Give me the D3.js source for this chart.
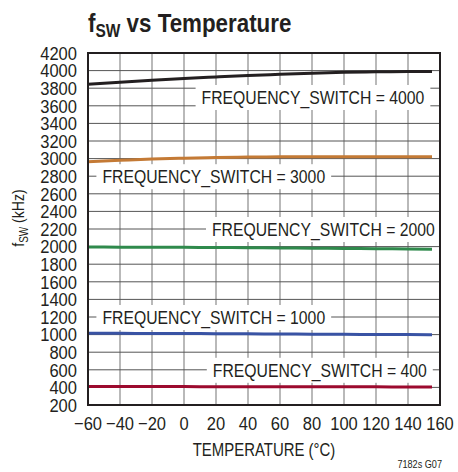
<!DOCTYPE html>
<html>
<head>
<meta charset="utf-8">
<script src="https://cdn.jsdelivr.net/npm/d3@7"></script>
<style>
  body { margin: 0; background: #fff; }
  text { font-family: "Liberation Sans", Arial, sans-serif; fill: #231f20; }
</style>
</head>
<body>
<svg id="chart" width="458" height="472"></svg>
<script>
// temperature points (°C)
var temps = [-60, -40, -20, 0, 20, 40, 60, 80, 100, 120, 140, 155];
// fSW readings (kHz) for each FREQUENCY_SWITCH setting
var f4000 = [3845, 3868, 3890, 3910, 3928, 3945, 3958, 3970, 3980, 3986, 3990, 3990];
var f3000 = [2965, 2980, 2995, 3005, 3012, 3017, 3020, 3022, 3022, 3022, 3021, 3020];
var f2000 = [1995, 1994, 1993, 1992, 1990, 1988, 1985, 1982, 1979, 1976, 1973, 1971];
var f1000 = [1015, 1014, 1013, 1012, 1011, 1009, 1007, 1005, 1003, 1001, 1000, 999];
var f400  = [410, 410, 409, 409, 408, 408, 407, 407, 406, 406, 405, 405];

var xTicks = [-60, -40, -20, 0, 20, 40, 60, 80, 100, 120, 140, 160];
var yTicks = d3.range(200, 4201, 200);

// label: text, start temperature, gridline value it sits on
var labels = [
  {text: "FREQUENCY_SWITCH = 4000", t: 11, v: 3700},
  {text: "FREQUENCY_SWITCH = 3000", t: -51, v: 2800},
  {text: "FREQUENCY_SWITCH = 2000", t: 17.5, v: 2200},
  {text: "FREQUENCY_SWITCH = 1000", t: -51, v: 1200},
  {text: "FREQUENCY_SWITCH = 400", t: 18, v: 600}
];

var series = [
  {vals: f4000, color: "#231f20"},
  {vals: f3000, color: "#c47a35"},
  {vals: f2000, color: "#2f8a4c"},
  {vals: f1000, color: "#3953a4"},
  {vals: f400,  color: "#9c0a2e"}
];

var svg = d3.select("#chart");
var pLeft = 88, pRight = 440, pTop = 53, pBottom = 405;
var narrow = 0.83;   // fake a condensed face

var x = d3.scaleLinear().domain([-60, 160]).range([pLeft, pRight]);
var y = d3.scaleLinear().domain([200, 4200]).range([pBottom, pTop]);

function ntext(parent, px, py, sx, rot) {
    return parent.append("text")
        .attr("transform", "translate(" + px + "," + py + ")" + (rot ? " rotate(" + rot + ")" : "") + " scale(" + sx + ",1)");
}

// grid
svg.append("g").selectAll("line").data(xTicks).enter().append("line")
    .attr("x1", d => x(d)).attr("x2", d => x(d))
    .attr("y1", pTop).attr("y2", pBottom)
    .attr("stroke", "#8a8a8a").attr("stroke-width", 1.2);
svg.append("g").selectAll("line").data(yTicks).enter().append("line")
    .attr("x1", pLeft).attr("x2", pRight)
    .attr("y1", d => y(d)).attr("y2", d => y(d))
    .attr("stroke", "#555").attr("stroke-width", 1);

// label boxes (white background hides grid)
var labG = svg.append("g");
labels.forEach(function(l) {
    var g = labG.append("g");
    var rect = g.append("rect").attr("fill", "#fff");
    var t = ntext(g, x(l.t), y(l.v), narrow)
        .attr("dy", "0.36em")
        .attr("font-size", 19)
        .text(l.text);
    var w = t.node().getComputedTextLength() * narrow;
    rect.attr("x", x(l.t) - 6).attr("width", w + 12)
        .attr("y", y(l.v) - 12).attr("height", 25);
});

// lines
var line = d3.line().x((d, i) => x(temps[i])).y(d => y(d)).curve(d3.curveMonotoneX);
svg.append("g").selectAll("path").data(series).enter().append("path")
    .attr("d", d => line(d.vals))
    .attr("fill", "none")
    .attr("stroke", d => d.color)
    .attr("stroke-width", 3);

// frame
svg.append("rect")
    .attr("x", pLeft).attr("y", pTop)
    .attr("width", pRight - pLeft).attr("height", pBottom - pTop)
    .attr("fill", "none").attr("stroke", "#231f20").attr("stroke-width", 2);

// y tick labels
yTicks.forEach(function(v) {
    ntext(svg, 77, y(v), 0.87)
        .attr("dy", "0.36em")
        .attr("text-anchor", "end").attr("font-size", 19)
        .text(v);
});

// x tick labels
xTicks.forEach(function(v) {
    ntext(svg, x(v), 430, 0.87)
        .attr("text-anchor", "middle").attr("font-size", 19)
        .text(v < 0 ? "\u2212" + Math.abs(v) : v);
});

// axis titles
ntext(svg, x(50), 456, narrow)
    .attr("text-anchor", "middle").attr("font-size", 18)
    .text("TEMPERATURE (°C)");

var yl = ntext(svg, 24, 218, narrow, -90)
    .attr("text-anchor", "middle").attr("font-size", 17);
yl.append("tspan").text("f");
yl.append("tspan").attr("font-size", 12).attr("dy", 4).text("SW");
yl.append("tspan").attr("dy", -4).text(" (kHz)");

// title
var title = ntext(svg, 88, 32, 0.86)
    .attr("font-size", 26).attr("font-weight", "bold");
title.append("tspan").text("f");
title.append("tspan").attr("font-size", 18).attr("dy", 5).text("SW");
title.append("tspan").attr("dy", -5).text(" vs Temperature");

ntext(svg, 442, 468, narrow)
    .attr("text-anchor", "end").attr("font-size", 11)
    .text("7182s G07");
</script>
</body>
</html>
